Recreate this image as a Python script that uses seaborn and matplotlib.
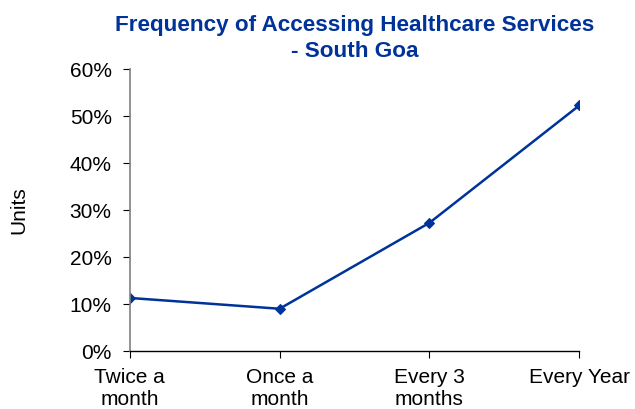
import matplotlib
matplotlib.use("Agg")
import matplotlib.pyplot as plt
import pandas as pd
import seaborn as sns
from matplotlib.ticker import PercentFormatter

categories = ["Twice a\nmonth", "Once a\nmonth", "Every 3\nmonths", "Every Year"]
shares = [11.3, 9.0, 27.3, 52.3]
y_ticks = [0, 10, 20, 30, 40, 50, 60]

BLUE = "#003399"

sns.set_style("ticks")
plt.rcParams["font.family"] = ["Liberation Sans", "DejaVu Sans"]
plt.rcParams["text.color"] = "black"
plt.rcParams["xtick.color"] = "black"
plt.rcParams["ytick.color"] = "black"
plt.rcParams["axes.labelcolor"] = "black"

df = pd.DataFrame({"freq": categories, "share": shares})

fig = plt.figure(figsize=(6.35, 4.09), dpi=100)
ax = fig.add_axes([0.2043, 0.1418, 0.708, 0.6888])

sns.lineplot(data=df, x="freq", y="share", ax=ax, color=BLUE, linewidth=1.8,
             marker="D", markersize=5, markeredgecolor=BLUE, sort=False)

ax.set_xlim(0, len(categories) - 1)
ax.set_ylim(0, 60)
ax.set_yticks(y_ticks)
ax.yaxis.set_major_formatter(PercentFormatter(decimals=0))
ax.set_xticks(range(len(categories)))
ax.set_xticklabels(categories, fontsize=15, linespacing=1.2)
ax.tick_params(axis="y", labelsize=15, length=5, pad=8)
ax.tick_params(axis="x", length=5, pad=7)

ax.set_xlabel("")
ax.set_ylabel("Units", fontsize=15, labelpad=30)

for side in ["top", "right"]:
    ax.spines[side].set_visible(False)
ax.spines["left"].set_color("#808080")
ax.spines["left"].set_linewidth(1.2)
ax.spines["bottom"].set_color("#000000")
ax.spines["bottom"].set_linewidth(1.0)

ax.set_title("Frequency of Accessing Healthcare Services\n- South Goa",
             fontsize=16.2, fontweight="bold", color=BLUE, pad=9, linespacing=1.3)

fig.savefig("out.png", dpi=100)
